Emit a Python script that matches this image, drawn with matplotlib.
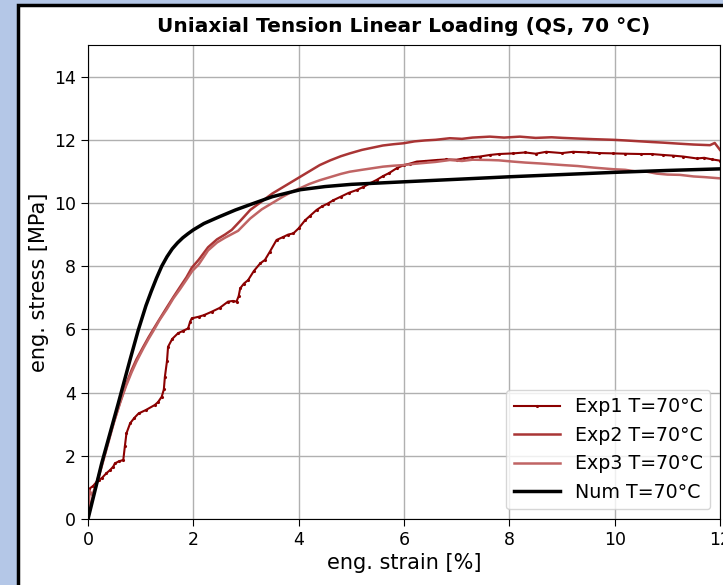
import matplotlib.pyplot as plt
from matplotlib.patches import Rectangle

# strain [%] / stress [MPa]
exp1_strain = [0.0, 0.02, 0.1, 0.2, 0.26, 0.35, 0.42, 0.48, 0.51, 0.58, 0.67, 0.70, 0.73, 0.80,
               0.88, 0.96, 1.1, 1.27, 1.33, 1.40, 1.44, 1.46, 1.50, 1.52, 1.60, 1.71, 1.80, 1.90,
               1.94, 1.97, 2.1, 2.2, 2.35, 2.5, 2.66, 2.75, 2.82, 2.86, 2.89, 2.96, 3.04, 3.15,
               3.27, 3.36, 3.45, 3.58, 3.70, 3.80, 3.90, 4.0, 4.12, 4.22, 4.34, 4.45, 4.55, 4.66,
               4.80, 4.95, 5.10, 5.22, 5.35, 5.48, 5.60, 5.72, 5.86, 6.0, 6.12, 6.24, 6.40, 6.62,
               6.80, 7.0, 7.13, 7.3, 7.44, 7.63, 7.8, 8.07, 8.3, 8.5, 8.7, 9.0, 9.21, 9.5, 9.7,
               9.97, 10.2, 10.5, 10.7, 10.92, 11.1, 11.3, 11.56, 11.7, 11.85, 12.0]
exp1_stress = [0.0, 0.95, 1.05, 1.25, 1.29, 1.45, 1.55, 1.66, 1.76, 1.82, 1.87, 2.3, 2.71, 3.03,
               3.2, 3.34, 3.45, 3.61, 3.70, 3.87, 4.1, 4.5, 5.0, 5.45, 5.7, 5.88, 5.95, 6.03,
               6.25, 6.35, 6.40, 6.45, 6.56, 6.68, 6.88, 6.90, 6.88, 7.05, 7.3, 7.45, 7.56, 7.85,
               8.09, 8.2, 8.45, 8.83, 8.92, 9.0, 9.04, 9.2, 9.45, 9.60, 9.78, 9.90, 9.98, 10.09,
               10.20, 10.32, 10.41, 10.50, 10.62, 10.73, 10.85, 10.95, 11.1, 11.2, 11.25, 11.31,
               11.33, 11.36, 11.38, 11.37, 11.41, 11.45, 11.47, 11.52, 11.55, 11.57, 11.60, 11.56,
               11.62, 11.58, 11.62, 11.60, 11.58, 11.57, 11.56, 11.55, 11.55, 11.52, 11.50, 11.47,
               11.41, 11.43, 11.38, 11.34]

exp2_strain = [0.0, 0.05, 0.15, 0.3, 0.45, 0.61, 0.72, 0.83, 0.92, 1.05, 1.15, 1.24, 1.35, 1.48,
               1.62, 1.75, 1.87, 1.97, 2.1, 2.28, 2.45, 2.6, 2.73, 2.9, 3.08, 3.3, 3.5, 3.7,
               3.9, 4.03, 4.2, 4.4, 4.6, 4.8, 4.97, 5.2, 5.4, 5.6, 5.8, 5.99, 6.2, 6.4, 6.6,
               6.87, 7.1, 7.3, 7.63, 7.9, 8.2, 8.5, 8.8, 9.02, 9.3, 9.6, 9.97, 10.2, 10.5, 10.7,
               10.92, 11.2, 11.5, 11.81, 11.9, 12.0]
exp2_stress = [0.0, 0.45, 1.05, 1.95, 2.85, 3.7, 4.25, 4.72, 5.05, 5.45, 5.75, 6.0, 6.3, 6.65,
               7.02, 7.35, 7.65, 7.95, 8.2, 8.6, 8.85, 9.0, 9.15, 9.45, 9.78, 10.05, 10.3, 10.5,
               10.7, 10.83, 11.0, 11.2, 11.35, 11.48, 11.57, 11.68, 11.75, 11.82, 11.86, 11.89,
               11.95, 11.98, 12.0, 12.05, 12.03, 12.07, 12.1, 12.07, 12.1, 12.06, 12.08, 12.06,
               12.04, 12.02, 12.0, 11.98, 11.95, 11.93, 11.91, 11.88, 11.85, 11.83, 11.9, 11.68]

exp3_strain = [0.0, 0.03, 0.08, 0.2, 0.35, 0.5, 0.61, 0.72, 0.83, 0.92, 1.05, 1.15, 1.24, 1.36,
               1.5, 1.62, 1.75, 1.88, 1.98, 2.1, 2.28, 2.45, 2.6, 2.85, 3.08, 3.3, 3.5, 3.7,
               3.9, 4.03, 4.2, 4.4, 4.6, 4.8, 4.97, 5.2, 5.4, 5.6, 5.8, 5.99, 6.2, 6.4, 6.6,
               6.87, 7.1, 7.3, 7.63, 7.8, 8.07, 8.3, 8.6, 9.02, 9.3, 9.6, 9.97, 10.2, 10.4,
               10.61, 10.8, 11.0, 11.24, 11.5, 11.7, 12.0]
exp3_stress = [0.0, 0.9, 0.75, 1.3, 2.2, 3.1, 3.68, 4.2, 4.65, 4.98, 5.4, 5.7, 5.95, 6.3,
               6.65, 6.98, 7.28, 7.6, 7.85, 8.05, 8.5, 8.75, 8.9, 9.12, 9.51, 9.8, 10.0, 10.2,
               10.38, 10.47, 10.6, 10.72, 10.82, 10.92, 10.99, 11.05, 11.1, 11.15, 11.18, 11.2,
               11.24, 11.27, 11.3, 11.36, 11.33, 11.37, 11.36, 11.35, 11.31, 11.28, 11.25, 11.2,
               11.17, 11.12, 11.07, 11.05, 11.0, 10.99, 10.93, 10.9, 10.89, 10.84, 10.82, 10.78]

num_strain = [0.0, 0.26, 0.575, 0.8, 0.955, 1.1, 1.2, 1.3, 1.4, 1.5, 1.6, 1.7, 1.8, 1.9, 2.0,
              2.2, 2.5, 2.8, 3.08, 3.5, 4.03, 4.5, 5.0, 5.99, 7.0, 8.0, 9.0, 10.0, 11.0, 12.0]
num_stress = [0.0, 1.76, 3.66, 5.05, 5.98, 6.75, 7.2, 7.62, 8.0, 8.3, 8.55, 8.74, 8.9, 9.03,
              9.15, 9.35, 9.57, 9.78, 9.95, 10.2, 10.42, 10.52, 10.59, 10.67, 10.75, 10.83,
              10.9, 10.97, 11.03, 11.08]

fig = plt.figure(figsize=(7.23, 5.85), dpi=100, facecolor='#b4c7e7')
# white page with black frame behind the axes (screenshot border)
fig.patches.append(Rectangle((18 / 723, -0.05), 1.0, (585 - 5) / 585 + 0.05,
                             transform=fig.transFigure, facecolor='white',
                             edgecolor='black', linewidth=2.5, zorder=-10))

ax = fig.add_axes([88 / 723, 66 / 585, 632 / 723, 474 / 585])
ax.plot(exp1_strain, exp1_stress, color='#8b0000', marker='.', markersize=2.5,
        linewidth=1.5, label='Exp1 T=70°C')
ax.plot(exp2_strain, exp2_stress, color='#a52a2a', linewidth=1.8, alpha=0.95,
        label='Exp2 T=70°C')
ax.plot(exp3_strain, exp3_stress, color='#c06464', linewidth=1.8, label='Exp3 T=70°C')
ax.plot(num_strain, num_stress, color='black', linewidth=2.5, label='Num T=70°C')

ax.set_xlim(0, 12)
ax.set_ylim(0, 15)
ax.set_xticks(range(0, 13, 2))
ax.set_yticks(range(0, 15, 2))
ax.tick_params(labelsize=12.5, length=5)
ax.grid(True, color='#b0b0b0', linewidth=1)
ax.set_xlabel('eng. strain [%]', fontsize=15, labelpad=3)
ax.set_ylabel('eng. stress [MPa]', fontsize=15)
ax.set_title('Uniaxial Tension Linear Loading (QS, 70 °C)', fontsize=14.5,
             fontweight='bold', pad=9)
ax.legend(loc='lower right', fontsize=13.7, handlelength=2.4, borderaxespad=0.5)

fig.savefig('out.png', dpi=100, facecolor=fig.get_facecolor())
